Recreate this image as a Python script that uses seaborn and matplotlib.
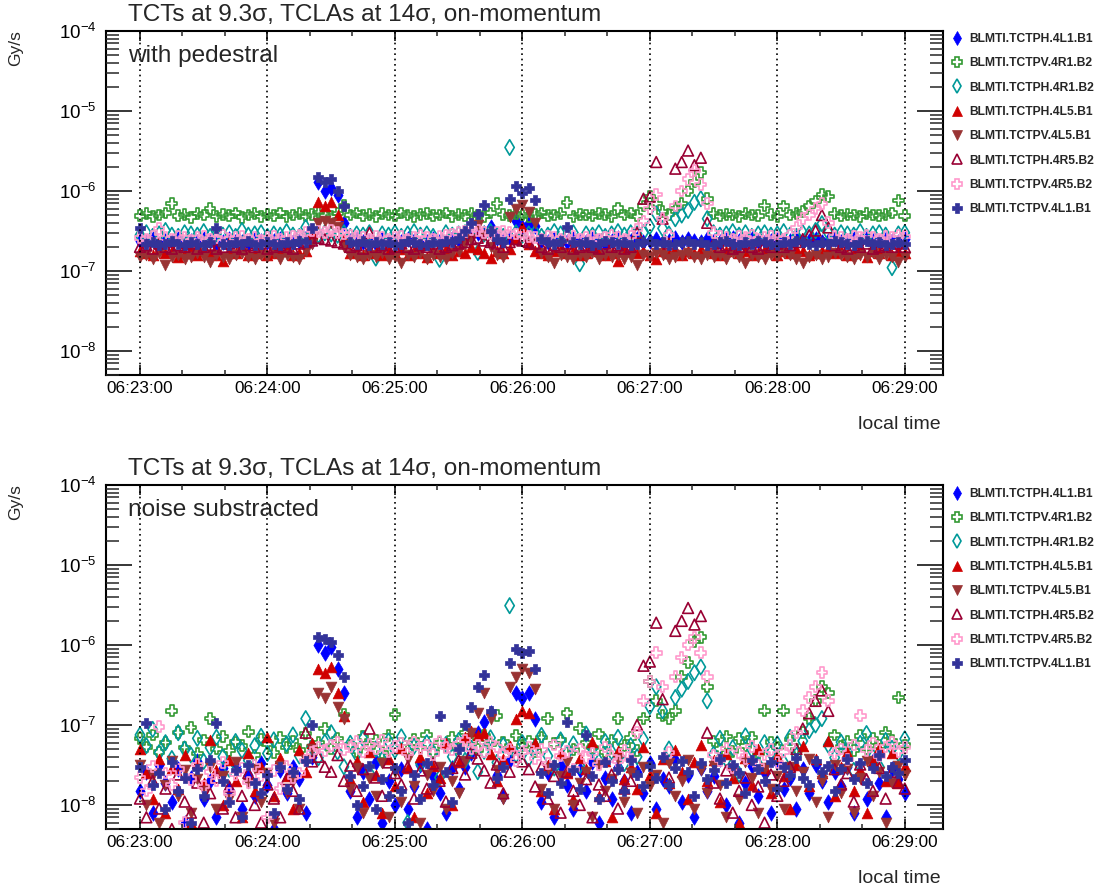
import numpy as np
import matplotlib
matplotlib.use("Agg")
import matplotlib.pyplot as plt
import seaborn as sns
from matplotlib.lines import Line2D
from matplotlib.ticker import LogLocator, NullFormatter, MultipleLocator

sns.set_style("ticks")
plt.rcParams["font.family"] = ["Liberation Sans", "DejaVu Sans"]
plt.rcParams["mathtext.fontset"] = "custom"
plt.rcParams["mathtext.rm"] = "Liberation Sans"
plt.rcParams["mathtext.it"] = "Liberation Sans:italic"
plt.rcParams["mathtext.default"] = "regular"
plt.rcParams["axes.unicode_minus"] = False

# ---------------- data ----------------
# sample times, seconds after 06:23:00 (one sample every 3 s)
seconds = list(range(0, 361, 3))
tick_seconds = [0, 60, 120, 180, 240, 300, 360]
tick_labels = ["06:23:00", "06:24:00", "06:25:00", "06:26:00",
               "06:27:00", "06:28:00", "06:29:00"]

series_names = ["BLMTI.TCTPH.4L1.B1", "BLMTI.TCTPV.4R1.B2", "BLMTI.TCTPH.4R1.B2",
                "BLMTI.TCTPH.4L5.B1", "BLMTI.TCTPV.4L5.B1", "BLMTI.TCTPH.4R5.B2",
                "BLMTI.TCTPV.4R5.B2", "BLMTI.TCTPV.4L1.B1"]

# --- top panel: with pedestal, units of 1e-7 Gy/s ---
ped_tctph_4l1_b1 = [
    2.4, 2.3, 2.5, 2.2, 2.4, 2.3, 2.5, 2.2, 2.4, 2.3,
    2.5, 2.4, 2.2, 2.3, 2.5, 2.4, 2.3, 2.2, 2.5, 2.4,
    2.3, 2.4, 2.5, 2.2, 2.3, 2.4, 2.6, 2.4, 13, 10,
    11, 9.0, 4.0, 2.4, 2.5, 2.3, 2.4, 2.2, 2.5, 2.3,
    2.4, 2.3, 2.5, 2.4, 2.2, 2.3, 2.5, 2.4, 2.3, 2.5,
    2.4, 2.6, 2.8, 3.0, 3.0, 3.5, 2.6, 2.4, 2.6, 4.2,
    3.5, 4.0, 3.6, 2.4, 2.3, 2.5, 2.4, 2.3, 2.5, 2.4,
    2.3, 2.5, 2.4, 2.2, 2.4, 2.6, 2.3, 2.4, 2.5, 2.3,
    2.4, 2.5, 2.3, 2.4, 2.6, 2.3, 2.5, 2.4, 2.3, 2.5,
    2.4, 2.3, 2.5, 2.6, 2.4, 2.3, 2.5, 2.4, 2.3, 2.4,
    2.5, 2.3, 2.4, 2.6, 2.3, 2.4, 2.5, 2.3, 2.4, 2.5,
    2.3, 2.4, 2.5, 2.3, 2.6, 2.4, 2.3, 2.5, 2.4, 2.3,
    2.5]
ped_tctpv_4r1_b2 = [
    4.9, 5.2, 4.8, 5.0, 5.3, 7.0, 4.9, 5.1, 4.7, 5.2,
    5.0, 6.0, 4.8, 5.1, 4.9, 5.3, 4.7, 5.0, 5.2, 4.8,
    5.1, 4.9, 5.3, 4.8, 5.0, 5.2, 4.9, 5.1, 5.4, 5.0,
    4.8, 5.2, 6.6, 5.0, 5.3, 4.9, 5.1, 4.8, 5.2, 5.0,
    4.9, 5.3, 5.0, 4.8, 5.1, 5.2, 4.9, 5.0, 5.3, 4.8,
    5.1, 4.9, 5.2, 5.0, 4.8, 5.3, 7.0, 5.1, 4.9, 5.2,
    5.0, 4.8, 5.1, 5.3, 4.9, 5.0, 5.2, 7.2, 4.8, 5.1,
    5.0, 4.9, 5.2, 5.1, 4.8, 6.1, 5.0, 5.3, 4.9, 6.5,
    8.5, 7.0, 5.5, 5.1, 6.0, 7.0, 10, 13, 17, 8.0,
    5.2, 4.9, 5.1, 5.0, 4.8, 5.2, 5.0, 4.9, 6.6, 5.1,
    4.8, 6.5, 5.0, 5.2, 5.5, 6.5, 7.5, 9.0, 8.5, 5.2,
    4.9, 5.1, 5.0, 4.8, 5.2, 5.0, 4.9, 5.1, 5.3, 7.6,
    4.9]
ped_tctph_4r1_b2 = [
    2.8, 3.0, 2.7, 2.9, 3.2, 2.8, 2.7, 3.0, 2.9, 2.8,
    3.1, 2.7, 2.9, 2.8, 3.0, 2.7, 3.2, 2.8, 2.9, 3.0,
    2.7, 2.9, 2.8, 3.1, 2.8, 2.7, 3.5, 2.9, 2.8, 3.0,
    2.9, 2.8, 3.0, 2.7, 2.9, 2.8, 3.0, 1.45, 2.9, 2.8,
    3.0, 2.7, 2.9, 3.1, 2.8, 2.9, 2.7, 1.4, 3.0, 2.8,
    2.9, 3.0, 2.8, 1.7, 2.9, 3.1, 2.8, 2.7, 35, 3.0,
    2.8, 2.9, 3.0, 2.7, 2.8, 3.1, 2.9, 2.8, 3.0, 1.23,
    2.9, 2.8, 3.0, 2.7, 2.9, 3.1, 2.8, 3.0, 2.9, 3.0,
    3.6, 5.2, 3.4, 2.9, 4.5, 5.0, 5.7, 7.2, 8.0, 4.5,
    3.0, 2.8, 2.9, 3.1, 2.8, 3.0, 2.7, 2.9, 3.0, 2.8,
    2.9, 3.1, 2.8, 2.7, 3.0, 2.9, 3.2, 3.9, 3.0, 2.8,
    3.0, 2.9, 2.8, 3.1, 2.7, 2.9, 3.0, 2.8, 1.1, 2.9,
    3.0]
ped_tctph_4l5_b1 = [
    1.8, 1.7, 1.6, 1.9, 1.7, 1.8, 1.5, 1.7, 1.9, 1.6,
    1.8, 1.7, 1.6, 1.35, 1.8, 1.7, 1.9, 1.6, 1.7, 1.8,
    1.6, 1.7, 1.9, 1.8, 1.6, 1.7, 1.8, 3.0, 7.2, 6.5,
    7.2, 5.0, 2.5, 1.7, 1.8, 1.6, 1.9, 1.7, 1.6, 1.8,
    1.7, 1.9, 1.6, 1.8, 1.7, 1.5, 1.8, 1.7, 1.9, 1.6,
    1.8, 1.7, 2.0, 1.9, 1.7, 1.45, 1.8, 1.7, 1.9, 2.5,
    3.5, 2.2, 1.8, 1.7, 1.6, 1.8, 1.9, 1.7, 1.8, 1.6,
    1.7, 1.9, 1.8, 1.6, 1.7, 1.35, 1.8, 1.9, 1.7, 1.8,
    1.6, 1.4, 1.8, 1.7, 1.9, 1.6, 1.8, 1.7, 1.9, 1.8,
    1.7, 1.6, 1.8, 1.9, 1.7, 1.8, 1.6, 1.7, 1.9, 1.8,
    1.6, 1.8, 1.7, 1.9, 1.8, 1.6, 1.7, 1.8, 1.9, 1.7,
    1.8, 1.6, 1.7, 1.9, 1.5, 1.8, 1.7, 1.9, 1.6, 1.8,
    1.7]
ped_tctpv_4l5_b1 = [
    1.5, 1.6, 1.4, 1.7, 1.2, 1.5, 1.6, 1.4, 1.5, 1.7,
    1.5, 1.3, 1.6, 1.5, 1.4, 1.6, 1.7, 1.5, 1.4, 1.6,
    1.5, 1.7, 1.4, 1.6, 1.5, 1.4, 1.8, 2.2, 4.0, 4.2,
    4.0, 3.5, 2.0, 1.6, 1.5, 1.4, 1.6, 1.5, 1.7, 1.4,
    1.5, 1.25, 1.6, 1.5, 1.7, 1.4, 1.6, 1.5, 1.4, 1.7,
    1.8, 2.2, 2.5, 3.7, 2.8, 2.0, 1.6, 1.5, 4.7, 6.0,
    6.6, 5.5, 4.0, 1.7, 1.5, 1.25, 1.6, 1.5, 1.4, 1.6,
    1.5, 1.7, 1.4, 1.6, 1.5, 1.6, 1.4, 1.5, 1.2, 1.6,
    1.5, 1.7, 1.6, 1.4, 1.5, 1.6, 1.7, 1.5, 1.4, 1.6,
    1.5, 1.6, 1.4, 1.7, 1.5, 1.25, 1.6, 1.5, 1.4, 1.6,
    1.5, 1.7, 1.6, 1.4, 1.25, 1.5, 1.6, 1.4, 1.5, 1.7,
    1.6, 1.5, 1.4, 1.6, 1.5, 1.7, 1.4, 1.6, 1.5, 1.3,
    1.5]
ped_tctph_4r5_b2 = [
    2.0, 2.1, 1.9, 2.2, 2.0, 1.9, 2.1, 2.0, 2.2, 1.9,
    2.0, 2.1, 1.9, 2.0, 2.2, 2.0, 1.9, 2.1, 2.0, 2.2,
    1.9, 2.0, 2.1, 2.0, 1.9, 2.2, 2.3, 2.4, 2.6, 2.5,
    2.4, 2.3, 2.2, 2.0, 2.1, 1.9, 3.0, 2.0, 2.1, 1.9,
    2.0, 2.2, 2.0, 1.9, 2.1, 2.0, 2.2, 1.9, 2.0, 2.1,
    2.2, 2.3, 2.5, 2.6, 2.4, 2.3, 2.2, 2.0, 2.3, 2.5,
    2.4, 2.3, 2.2, 2.0, 1.9, 2.1, 2.0, 2.2, 1.9, 2.0,
    2.1, 2.0, 1.9, 2.2, 2.0, 2.1, 1.9, 2.0, 3.0, 8.0,
    8.5, 23, 4.5, 2.2, 19, 23, 32, 21, 26, 4.0,
    2.2, 2.0, 2.1, 1.9, 2.0, 2.2, 2.0, 1.9, 2.1, 2.0,
    2.2, 2.0, 2.1, 2.3, 2.5, 2.8, 3.2, 5.0, 3.5, 2.1,
    2.0, 1.9, 2.1, 2.0, 2.2, 1.9, 2.0, 2.1, 2.0, 2.2,
    2.0]
ped_tctpv_4r5_b2 = [
    2.6, 2.5, 2.7, 3.4, 2.6, 2.5, 2.7, 2.6, 2.4, 2.6,
    2.7, 2.5, 2.6, 2.8, 2.5, 2.6, 2.7, 2.5, 2.6, 2.4,
    2.6, 2.7, 2.5, 2.6, 2.7, 2.8, 3.0, 3.2, 3.1, 3.0,
    3.2, 3.0, 2.9, 2.8, 2.7, 2.6, 2.5, 2.7, 2.6, 2.5,
    2.6, 2.7, 2.5, 2.6, 2.8, 2.6, 2.5, 2.7, 2.8, 2.9,
    3.0, 3.1, 3.3, 3.2, 3.0, 2.9, 3.0, 3.1, 3.0, 2.9,
    2.8, 2.7, 2.6, 2.5, 2.7, 2.6, 2.5, 2.6, 2.7, 2.5,
    2.6, 2.7, 2.5, 2.6, 2.8, 2.6, 2.5, 2.7, 3.3, 4.2,
    6.0, 9.0, 4.5, 2.8, 6.5, 10, 14, 18, 12, 7.0,
    3.0, 2.7, 2.6, 2.5, 2.7, 2.6, 2.8, 2.5, 2.6, 2.7,
    2.6, 2.5, 2.8, 3.5, 4.5, 5.0, 6.0, 7.0, 4.0, 2.7,
    2.6, 2.5, 2.7, 2.6, 2.8, 2.6, 2.5, 2.7, 2.6, 2.8,
    2.7]
ped_tctpv_4l1_b1 = [
    3.4, 2.2, 2.3, 2.1, 2.2, 2.4, 2.2, 2.1, 2.3, 2.2,
    2.1, 2.3, 3.4, 2.2, 2.1, 2.3, 2.2, 2.4, 2.1, 2.2,
    2.3, 2.2, 2.1, 2.3, 2.2, 2.4, 2.3, 3.4, 15, 13,
    14, 10, 6.5, 2.3, 2.2, 2.4, 2.1, 2.3, 2.2, 2.3,
    2.1, 2.2, 2.4, 2.3, 2.2, 2.1, 2.3, 2.2, 2.4, 2.3,
    2.6, 3.2, 4.0, 5.2, 6.6, 3.2, 2.5, 2.3, 8.0, 11.7,
    9.3, 11, 7.6, 2.5, 2.3, 2.2, 2.4, 3.5, 2.3, 2.2,
    2.3, 2.1, 2.2, 2.4, 2.3, 2.2, 2.3, 2.1, 2.2, 2.3,
    2.4, 2.2, 2.3, 2.1, 2.2, 2.3, 2.4, 2.2, 2.3, 2.1,
    2.2, 2.3, 2.4, 2.2, 2.1, 2.3, 2.2, 2.4, 2.3, 2.2,
    2.1, 2.3, 2.2, 2.4, 2.3, 2.2, 2.1, 2.3, 2.2, 2.4,
    2.3, 2.2, 2.1, 2.3, 2.4, 2.2, 2.3, 2.1, 2.2, 2.3,
    2.2]

# --- bottom panel: noise subtracted, units of 1e-8 Gy/s ---
sub_tctph_4l1_b1 = [
    1.5, 2.6, 0.8, 3.2, 1.9, 1.1, 2.8, 0.6, 2.2, 3.5,
    1.2, 2.0, 0.7, 2.9, 1.6, 3.1, 0.9, 2.4, 1.3, 3.3,
    1.8, 0.5, 2.7, 1.4, 3.0, 2.1, 0.8, 4.0, 100, 80,
    95, 50, 25, 1.5, 0.7, 2.6, 1.2, 3.4, 0.6, 2.0,
    1.0, 2.8, 0.9, 1.7, 3.2, 0.5, 2.3, 1.4, 0.8, 2.9,
    1.6, 3.0, 4.5, 8.0, 11, 14, 2.4, 1.3, 3.6, 25,
    22, 25, 12, 1.1, 2.5, 0.7, 3.1, 1.8, 0.9, 2.7,
    1.5, 3.4, 0.6, 2.2, 1.2, 3.0, 2.0, 0.8, 2.6, 1.4,
    3.3, 0.9, 2.1, 1.7, 3.6, 1.1, 2.4, 0.7, 2.9, 1.5,
    2.3, 3.8, 1.0, 2.7, 0.6, 1.9, 3.1, 1.3, 2.5, 0.8,
    3.4, 1.6, 2.2, 0.9, 2.8, 1.4, 3.2, 2.0, 1.1, 2.6,
    1.7, 3.0, 0.8, 2.4, 1.2, 3.5, 1.9, 0.7, 2.8, 2.1,
    1.4]
sub_tctpv_4r1_b2 = [
    6.8, 5.3, 7.5, 4.6, 6.0, 15, 8.0, 5.2, 9.3, 4.4,
    6.5, 12, 5.0, 7.2, 4.8, 6.1, 5.5, 8.2, 4.2, 6.6,
    5.8, 4.5, 7.0, 5.2, 6.3, 4.9, 7.8, 5.4, 6.0, 9.0,
    5.0, 6.8, 13.5, 5.6, 4.7, 7.1, 5.3, 6.4, 4.5, 7.3,
    13.5, 5.9, 4.8, 6.6, 5.2, 7.5, 4.6, 6.0, 5.4, 7.0,
    5.1, 8.0, 6.2, 4.9, 7.3, 5.7, 13, 6.1, 5.0, 7.4,
    5.5, 6.3, 4.7, 7.0, 12, 5.8, 6.5, 14, 4.9, 9.0,
    6.0, 5.2, 7.7, 4.6, 6.4, 12, 5.5, 6.9, 4.8, 12,
    35, 20, 13, 12, 15, 40, 60, 110, 125, 30,
    6.3, 5.0, 7.2, 4.7, 6.8, 5.5, 7.0, 4.4, 15, 6.1,
    5.3, 15, 6.6, 4.9, 8.0, 12, 20, 30, 25, 7.5,
    5.4, 6.2, 4.8, 7.3, 5.1, 6.7, 5.5, 8.0, 6.4, 22,
    5.6]
sub_tctph_4r1_b2 = [
    7.5, 5.5, 8.8, 4.5, 6.0, 3.8, 8.0, 5.0, 4.2, 6.8,
    3.5, 5.2, 7.0, 4.0, 2.8, 6.2, 4.8, 3.6, 5.5, 7.2,
    4.4, 6.5, 3.2, 5.8, 7.5, 4.1, 12, 5.3, 3.9, 6.1,
    8.0, 4.6, 3.0, 5.9, 4.3, 6.7, 2.5, 5.0, 3.7, 6.3,
    4.8, 7.1, 0.6, 5.4, 3.3, 6.0, 4.5, 2.2, 5.7, 4.0,
    6.4, 3.6, 5.1, 2.6, 4.7, 6.9, 3.4, 5.6, 310, 4.2,
    6.0, 3.8, 5.3, 7.4, 4.1, 2.9, 6.5, 4.4, 5.8, 3.1,
    7.7, 5.0, 3.5, 6.2, 4.6, 7.0, 3.3, 5.5, 4.0, 6.6,
    17, 30, 15, 5.0, 22, 28, 35, 45, 53, 20,
    4.3, 6.8, 3.7, 5.2, 2.4, 7.3, 4.9, 3.2, 6.0, 4.5,
    5.8, 3.4, 7.0, 4.2, 6.3, 8.5, 10, 12, 5.6, 3.9,
    6.1, 4.7, 2.7, 5.9, 7.8, 4.0, 3.0, 6.4, 5.1, 4.4,
    6.7]
sub_tctph_4l5_b1 = [
    5.0, 2.5, 1.2, 3.8, 0.8, 2.9, 1.6, 4.2, 0.6, 3.3,
    1.9, 6.5, 2.7, 1.0, 3.6, 2.0, 0.7, 4.5, 1.5, 3.0,
    7.0, 1.3, 3.9, 2.3, 0.9, 4.8, 2.6, 6.0, 50, 45,
    53, 25, 13, 2.1, 3.5, 1.1, 4.6, 2.4, 0.8, 3.7,
    1.7, 5.2, 2.9, 0.7, 4.0, 1.4, 3.1, 2.2, 6.0, 1.0,
    3.4, 7.0, 8.5, 7.5, 8.0, 4.3, 2.0, 3.8, 5.5, 12,
    15, 14, 6.0, 1.5, 3.2, 0.9, 4.4, 2.5, 1.2, 3.9,
    2.8, 6.2, 1.3, 3.5, 0.7, 4.7, 2.1, 3.0, 1.6, 5.3,
    2.4, 0.8, 3.7, 1.9, 4.9, 2.6, 1.2, 3.4, 5.6, 2.0,
    3.6, 1.1, 4.3, 2.2, 0.6, 3.9, 1.8, 5.0, 2.9, 1.4,
    4.1, 2.3, 0.9, 3.2, 5.4, 1.7, 3.8, 2.5, 6.3, 1.3,
    3.0, 4.6, 1.5, 2.7, 0.8, 3.5, 5.1, 2.0, 4.4, 1.9,
    3.1]
sub_tctpv_4l5_b1 = [
    3.2, 1.0, 2.4, 0.6, 1.8, 3.5, 1.3, 2.7, 0.8, 2.1,
    1.5, 3.0, 0.9, 2.3, 1.2, 3.4, 0.7, 1.9, 2.8, 1.1,
    2.5, 0.6, 3.1, 1.4, 2.0, 0.9, 3.6, 5.0, 25, 22,
    30, 17, 12, 1.6, 2.9, 0.8, 2.2, 1.3, 3.3, 0.7,
    2.6, 1.1, 3.7, 1.7, 0.6, 2.4, 1.5, 3.0, 0.9, 2.0,
    1.4, 3.5, 8.0, 14, 25, 12, 2.7, 1.2, 30, 40,
    50, 45, 28, 1.6, 2.8, 0.9, 2.3, 3.4, 1.0, 1.9,
    2.6, 0.7, 3.2, 1.5, 2.1, 3.8, 1.1, 2.5, 0.8, 3.0,
    1.7, 2.4, 0.6, 3.3, 1.3, 2.0, 3.6, 0.9, 2.7, 1.4,
    3.1, 1.8, 0.7, 2.5, 1.2, 3.4, 2.2, 0.8, 2.9, 1.6,
    2.3, 0.9, 3.0, 1.5, 2.6, 3.7, 1.1, 2.0, 0.7, 3.2,
    1.4, 2.8, 0.8, 2.2, 3.5, 1.3, 2.6, 0.6, 1.9, 3.1,
    2.4]
sub_tctph_4r5_b2 = [
    1.2, 0.7, 2.0, 0.9, 1.6, 0.5, 2.4, 1.1, 0.8, 1.9,
    0.6, 1.4, 2.2, 0.9, 1.7, 0.7, 1.3, 2.5, 1.0, 0.6,
    1.8, 1.2, 0.7, 2.1, 1.5, 0.9, 8.0, 3.5, 4.0, 3.0,
    2.6, 4.2, 2.0, 3.1, 1.5, 2.8, 9.0, 2.2, 1.3, 3.4,
    2.5, 1.8, 3.0, 1.2, 2.7, 1.6, 3.3, 2.0, 1.1, 2.9,
    3.6, 2.4, 4.5, 3.8, 2.7, 1.9, 3.2, 1.4, 2.6, 4.0,
    3.5, 2.8, 1.7, 3.0, 1.2, 2.3, 0.8, 2.6, 1.5, 1.0,
    2.1, 0.7, 1.8, 1.3, 2.4, 0.9, 1.6, 2.0, 10, 55,
    62, 190, 21, 2.2, 150, 200, 290, 180, 230, 8.0,
    1.9, 1.2, 2.7, 0.8, 1.5, 2.2, 1.0, 1.7, 0.6, 2.4,
    1.3, 2.0, 3.0, 5.0, 9.0, 14, 20, 27, 15, 2.8,
    1.8, 2.5, 1.1, 3.2, 2.1, 1.5, 2.9, 1.2, 2.6, 1.9,
    1.6]
sub_tctpv_4r5_b2 = [
    2.2, 1.5, 3.0, 9.5, 2.5, 1.8, 2.8, 0.6, 2.1, 3.2,
    1.7, 2.6, 2.0, 3.4, 1.4, 2.4, 2.9, 1.9, 3.1, 2.3,
    0.7, 2.7, 1.6, 3.0, 2.2, 2.5, 3.6, 4.5, 5.2, 4.8,
    5.5, 6.0, 4.9, 5.3, 6.2, 4.6, 5.7, 5.0, 6.4, 4.7,
    5.4, 5.9, 4.4, 6.1, 5.1, 5.6, 4.3, 6.3, 5.2, 4.9,
    5.8, 6.5, 5.0, 5.5, 4.6, 6.0, 5.3, 4.2, 5.0, 3.6,
    4.5, 5.2, 3.8, 4.9, 3.3, 5.6, 4.1, 4.7, 2.8, 5.0,
    3.9, 4.4, 3.2, 5.3, 4.0, 3.5, 4.8, 3.7, 8.0, 20,
    35, 80, 30, 4.5, 40, 70, 100, 125, 80, 40,
    4.2, 3.6, 5.1, 2.9, 4.5, 3.8, 5.4, 3.1, 4.3, 4.9,
    3.4, 4.6, 5.5, 8.0, 15, 22, 30, 45, 20, 4.4,
    5.0, 3.7, 5.6, 13, 4.8, 5.9, 4.1, 5.3, 6.0, 4.7,
    5.2]
sub_tctpv_4l1_b1 = [
    3.0, 10.5, 1.8, 2.5, 0.9, 3.4, 1.5, 2.2, 0.6, 2.8,
    1.3, 3.6, 10.5, 2.0, 1.1, 2.7, 0.7, 3.2, 1.9, 1.4,
    2.4, 0.8, 3.0, 1.6, 2.6, 1.2, 3.5, 10, 125, 120,
    110, 75, 40, 2.3, 1.0, 1.7, 3.1, 0.9, 2.1, 1.3,
    2.9, 1.5, 0.6, 2.4, 1.2, 3.3, 1.8, 13, 2.6, 1.1,
    5.0, 10, 17, 30, 42, 15, 2.2, 3.0, 60, 90,
    80, 85, 50, 2.5, 1.4, 3.2, 1.9, 11, 2.7, 1.6,
    7.5, 2.3, 1.2, 3.4, 2.0, 2.8, 1.5, 3.6, 2.4, 1.7,
    3.1, 2.2, 4.0, 1.8, 2.9, 3.5, 2.6, 1.3, 3.3, 2.1,
    2.7, 3.8, 1.9, 3.2, 2.5, 1.4, 3.6, 2.8, 2.0, 3.4,
    1.6, 3.0, 2.4, 3.9, 2.2, 1.8, 3.5, 2.6, 3.1, 1.5,
    2.8, 3.7, 2.1, 3.3, 1.9, 2.9, 4.2, 2.3, 3.0, 2.5,
    3.6]

ped_values = dict(zip(series_names, [
    ped_tctph_4l1_b1, ped_tctpv_4r1_b2, ped_tctph_4r1_b2, ped_tctph_4l5_b1,
    ped_tctpv_4l5_b1, ped_tctph_4r5_b2, ped_tctpv_4r5_b2, ped_tctpv_4l1_b1]))
sub_values = dict(zip(series_names, [
    sub_tctph_4l1_b1, sub_tctpv_4r1_b2, sub_tctph_4r1_b2, sub_tctph_4l5_b1,
    sub_tctpv_4l5_b1, sub_tctph_4r5_b2, sub_tctpv_4r5_b2, sub_tctpv_4l1_b1]))

title_text = "TCTs at 9.3\u03c3, TCLAs at 14\u03c3, on-momentum"

# ---------------- styles ----------------
styles = {
    "BLMTI.TCTPH.4L1.B1": ("#0000ff", "d", True),
    "BLMTI.TCTPV.4R1.B2": ("#339933", "P", False),
    "BLMTI.TCTPH.4R1.B2": ("#009999", "d", False),
    "BLMTI.TCTPH.4L5.B1": ("#d00000", "^", True),
    "BLMTI.TCTPV.4L5.B1": ("#993333", "v", True),
    "BLMTI.TCTPH.4R5.B2": ("#990033", "^", False),
    "BLMTI.TCTPV.4R5.B2": ("#ff99cc", "P", False),
    "BLMTI.TCTPV.4L1.B1": ("#333399", "P", True),
}
marker_area = {"d": 62, "P": 60, "^": 60, "v": 60}

W, H = 1100, 892
fig = plt.figure(figsize=(W / 100, H / 100), dpi=100)
ax_top = fig.add_axes([106 / W, 1 - 375 / H, (943 - 106) / W, 344 / H])
ax_bot = fig.add_axes([106 / W, 1 - 829 / H, (943 - 106) / W, 344 / H])


def draw_panel(ax, values, scale):
    for name in series_names:
        col, mk, filled = styles[name]
        sns.scatterplot(x=seconds, y=np.asarray(values[name], dtype=float) * scale,
                        ax=ax, marker=mk, s=marker_area[mk], color=col,
                        facecolor=col if filled else "none", edgecolor=col,
                        linewidth=0.5 if filled else 1.2, legend=False)
    ax.set_yscale("log")
    ax.set_ylim(5e-9, 1e-4)
    ax.set_xlim(-16, 378)
    ax.yaxis.set_major_locator(LogLocator(base=10, numticks=12))
    ax.yaxis.set_minor_locator(LogLocator(base=10, subs=np.arange(2, 10), numticks=40))
    ax.yaxis.set_minor_formatter(NullFormatter())
    ax.set_xticks(tick_seconds)
    ax.set_xticklabels(tick_labels)
    ax.xaxis.set_minor_locator(MultipleLocator(20))
    ax.tick_params(axis="x", which="major", direction="in", length=7.5, width=1.1,
                   top=True, bottom=True, labelsize=12.3, pad=4.5, colors="black")
    ax.tick_params(axis="x", which="minor", direction="in", length=3.8, width=1.1,
                   top=True, bottom=True)
    ax.tick_params(axis="y", which="major", direction="in", length=19, width=1.1,
                   left=True, right=True, labelsize=13.5, pad=7, colors="black")
    ax.tick_params(axis="y", which="minor", direction="in", length=9.5, width=1.1,
                   left=True, right=True)
    for sp in ax.spines.values():
        sp.set_visible(True)
        sp.set_linewidth(1.5)
        sp.set_color("black")
    ax.grid(axis="x", which="major", color="black", linestyle=(0, (1.0, 2.2)),
            linewidth=1.2)
    ax.grid(axis="y", which="both", visible=False)
    ax.set_axisbelow(False)
    ax.set_xlabel("")
    ax.set_ylabel("")


draw_panel(ax_top, ped_values, 1e-7)
draw_panel(ax_bot, sub_values, 1e-8)

# legends
handles = []
for name in series_names:
    col, mk, filled = styles[name]
    handles.append(Line2D([], [], linestyle="none", marker=mk, markersize=7,
                          markerfacecolor=col if filled else "none",
                          markeredgecolor=col, markeredgewidth=0.5 if filled else 1.2))
for top_px in (33, 488):
    fig.legend(handles, series_names, loc="upper left",
               bbox_to_anchor=(952 / W, 1 - top_px / H), frameon=False,
               prop={"weight": "bold", "size": 8.7}, handlelength=0.9,
               handletextpad=0.55, labelspacing=1.02, borderpad=0, borderaxespad=0)

# texts
for off, sub in ((0, "with pedestral"), (454, "noise substracted")):
    fig.text(128 / W, 1 - (21 + off) / H, title_text, fontsize=17.6, va="baseline", ha="left")
    fig.text(128 / W, 1 - (62 + off) / H, sub, fontsize=17.6, va="baseline", ha="left")
    fig.text(16 / W, 1 - (30 + off) / H, "Gy/s", fontsize=12.5, rotation=90,
             va="top", ha="center")
    fig.text(941 / W, 1 - (429 + off) / H, "local time", fontsize=14, va="baseline",
             ha="right")

fig.savefig("out.png", dpi=100)
